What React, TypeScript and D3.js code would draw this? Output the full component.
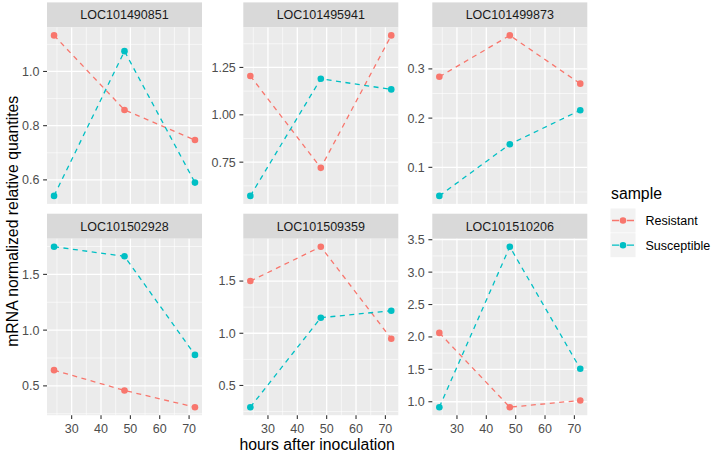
import React from "react";
import * as d3 from "d3";

const genes = ["LOC101490851", "LOC101495941", "LOC101499873", "LOC101502928", "LOC101509359", "LOC101510206"];
const hours = [24, 48, 72];
const seriesNames = ["Resistant", "Susceptible"];
const seriesColors = ["#F8766D", "#00BFC4"];
const resistant = [
  [1.133, 0.858, 0.747],
  [1.205, 0.72, 1.419],
  [0.284, 0.368, 0.27],
  [0.641, 0.459, 0.309],
  [1.5, 1.829, 0.948],
  [2.062, 0.916, 1.02],
];
const susceptible = [
  [0.541, 1.075, 0.59],
  [0.572, 1.19, 1.134],
  [0.042, 0.147, 0.216],
  [1.748, 1.662, 0.778],
  [0.292, 1.149, 1.216],
  [0.916, 3.392, 1.51],
];
const yTickValues = [
  [0.6, 0.8, 1.0],
  [0.75, 1.0, 1.25],
  [0.1, 0.2, 0.3],
  [0.5, 1.0, 1.5],
  [0.5, 1.0, 1.5],
  [1.0, 1.5, 2.0, 2.5, 3.0, 3.5],
];
const yTickLabels = [
  ["0.6", "0.8", "1.0"],
  ["0.75", "1.00", "1.25"],
  ["0.1", "0.2", "0.3"],
  ["0.5", "1.0", "1.5"],
  ["0.5", "1.0", "1.5"],
  ["1.0", "1.5", "2.0", "2.5", "3.0", "3.5"],
];
const xTickValues = [30, 40, 50, 60, 70];
const xTickLabels = ["30", "40", "50", "60", "70"];

const W = 714;
const H = 454;
const colLeft = [47, 243.3, 432.3];
const panelW = 155;
const rowTop = [27.4, 238.7];
const panelH = 176.5;
const stripH = 25;
const FONT = "'Liberation Sans', Arial, Helvetica, sans-serif";

function expand(ext: [number, number]): [number, number] {
  const r = ext[1] - ext[0];
  return [ext[0] - r * 0.05, ext[1] + r * 0.05];
}

function minorBreaks(major: number[], domain: [number, number]) {
  const step = major[1] - major[0];
  const ext = [major[0] - step, ...major, major[major.length - 1] + step];
  const out: number[] = [];
  for (let i = 0; i < ext.length - 1; i++) {
    const m = (ext[i] + ext[i + 1]) / 2;
    if (m >= domain[0] && m <= domain[1]) out.push(m);
  }
  return out;
}

function Panel({ idx }: { idx: number }) {
  const col = idx % 3;
  const row = Math.floor(idx / 3);
  const left = colLeft[col];
  const top = rowTop[row];
  const xDom = expand(d3.extent(hours) as [number, number]);
  const x = d3.scaleLinear().domain(xDom).range([left, left + panelW]);
  const all = [...resistant[idx], ...susceptible[idx]];
  const yDom = expand(d3.extent(all) as [number, number]);
  const y = d3.scaleLinear().domain(yDom).range([top + panelH, top]);
  const yMinor = minorBreaks(yTickValues[idx], yDom);
  const xMinor = minorBreaks(xTickValues, xDom);
  const series = [resistant[idx], susceptible[idx]];
  const line = d3
    .line<number>()
    .x((_, i) => x(hours[i]))
    .y((d) => y(d));
  return (
    <g>
      <rect x={left} y={top - stripH} width={panelW} height={stripH} fill="#D9D9D9" />
      <text
        x={left + panelW / 2}
        y={top - stripH / 2 + 4.4}
        textAnchor="middle"
        fontSize={12.5}
        fill="#1A1A1A"
        fontFamily={FONT}
      >
        {genes[idx]}
      </text>
      <rect x={left} y={top} width={panelW} height={panelH} fill="#EBEBEB" />
      {yMinor.map((v, i) => (
        <line key={"ym" + i} x1={left} x2={left + panelW} y1={y(v)} y2={y(v)} stroke="#fff" strokeWidth={0.6} />
      ))}
      {xMinor.map((v, i) => (
        <line key={"xm" + i} x1={x(v)} x2={x(v)} y1={top} y2={top + panelH} stroke="#fff" strokeWidth={0.6} />
      ))}
      {yTickValues[idx].map((v, i) => (
        <line key={"yM" + i} x1={left} x2={left + panelW} y1={y(v)} y2={y(v)} stroke="#fff" strokeWidth={1.3} />
      ))}
      {xTickValues.map((v, i) => (
        <line key={"xM" + i} x1={x(v)} x2={x(v)} y1={top} y2={top + panelH} stroke="#fff" strokeWidth={1.3} />
      ))}
      {yTickValues[idx].map((v, i) => (
        <g key={"yt" + i}>
          <line x1={left - 3.9} x2={left} y1={y(v)} y2={y(v)} stroke="#333333" strokeWidth={1.1} />
          <text
            x={left - 7.5}
            y={y(v) + 4.4}
            textAnchor="end"
            fontSize={12.5}
            fill="#4D4D4D"
            fontFamily={FONT}
          >
            {yTickLabels[idx][i]}
          </text>
        </g>
      ))}
      {row === 1 &&
        xTickValues.map((v, i) => (
          <g key={"xt" + i}>
            <line x1={x(v)} x2={x(v)} y1={top + panelH} y2={top + panelH + 3.9} stroke="#333333" strokeWidth={1.1} />
            <text x={x(v)} y={433.3} textAnchor="middle" fontSize={12.5} fill="#4D4D4D" fontFamily={FONT}>
              {xTickLabels[i]}
            </text>
          </g>
        ))}
      {series.map((s, si) => (
        <path
          key={"l" + si}
          d={line(s) || ""}
          fill="none"
          stroke={seriesColors[si]}
          strokeWidth={1.3}
          strokeDasharray="5 4.5"
        />
      ))}
      {series.map((s, si) =>
        s.map((v, i) => <circle key={"p" + si + "-" + i} cx={x(hours[i])} cy={y(v)} r={3.3} fill={seriesColors[si]} />)
      )}
    </g>
  );
}

export default function App() {
  const keyX = 610.5;
  const keyW = 25;
  const keyH = 24;
  const keyY = [208.5, 233.2];
  return (
    <svg
      width={W}
      height={H}
      style={{ position: "absolute", left: 0, top: 0, background: "#fff" }}
      fontFamily={FONT}
    >
      <rect x={0} y={0} width={W} height={H} fill="#fff" />
      {genes.map((_, i) => (
        <Panel key={i} idx={i} />
      ))}
      <text
        transform={`translate(17.5, ${(rowTop[0] + rowTop[1] + panelH) / 2}) rotate(-90)`}
        textAnchor="middle"
        fontSize={15.8}
        fill="#000"
      >
        mRNA normalized relative quantites
      </text>
      <text x={(colLeft[0] + colLeft[2] + panelW) / 2} y={449.5} textAnchor="middle" fontSize={15.8} fill="#000">
        hours after inoculation
      </text>
      <text x={611} y={199} fontSize={15.8} fill="#000">
        sample
      </text>
      {seriesNames.map((name, i) => (
        <g key={name}>
          <rect x={keyX} y={keyY[i]} width={keyW} height={keyH} fill="#F2F2F2" />
          <line
            x1={keyX + 1.5}
            x2={keyX + keyW - 1.5}
            y1={keyY[i] + keyH / 2}
            y2={keyY[i] + keyH / 2}
            stroke={seriesColors[i]}
            strokeWidth={1.3}
            strokeDasharray="7 8"
          />
          <circle cx={keyX + keyW / 2} cy={keyY[i] + keyH / 2} r={3.3} fill={seriesColors[i]} />
          <text x={645.5} y={keyY[i] + keyH / 2 + 4.4} fontSize={12.5} fill="#000">
            {name}
          </text>
        </g>
      ))}
    </svg>
  );
}
